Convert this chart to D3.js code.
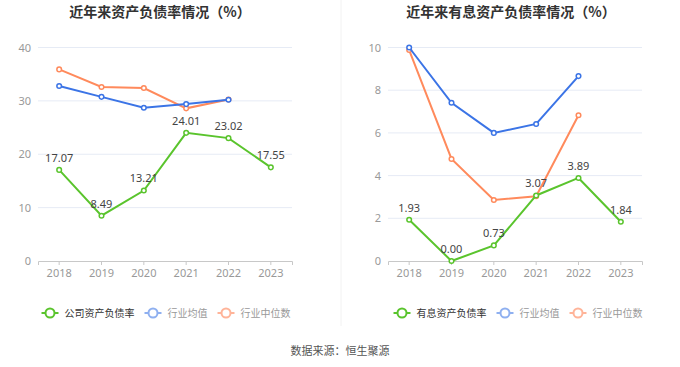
<!DOCTYPE html>
<html><head><meta charset="utf-8">
<script src="https://cdn.jsdelivr.net/npm/d3@7/dist/d3.min.js"></script>
<style>body{margin:0;background:#fff;}svg{display:block;font-family:"Noto Sans CJK SC","Noto Sans",sans-serif;}</style>
</head><body><svg id="c" width="680" height="367"></svg>
<script>
const years = ["2018","2019","2020","2021","2022","2023"];
// Left chart: 资产负债率
const leftTitle = "近年来资产负债率情况（%）";
const leftCompany = [17.07, 8.49, 13.21, 24.01, 23.02, 17.55];
const leftAvg = [32.8, 30.75, 28.7, 29.4, 30.2, null];
const leftMedian = [35.9, 32.6, 32.4, 28.6, 30.25, null];
const leftTicks = [0, 10, 20, 30, 40];
const leftNames = ["公司资产负债率", "行业均值", "行业中位数"];
// Right chart: 有息资产负债率
const rightTitle = "近年来有息资产负债率情况（%）";
const rightCompany = [1.93, 0.00, 0.73, 3.07, 3.89, 1.84];
const rightAvg = [10.0, 7.41, 6.0, 6.42, 8.66, null];
const rightMedian = [9.88, 4.78, 2.86, 3.03, 6.83, null];
const rightTicks = [0, 2, 4, 6, 8, 10];
const rightNames = ["有息资产负债率", "行业均值", "行业中位数"];
const source = "数据来源：恒生聚源";

const colors = ["#5ac42d", "#3b74e6", "#ff8a5c"];
const legendColors = ["#5ac42d", "#8fb0f0", "#ffb499"];
const svg = d3.select("#c");

svg.append("line").attr("x1",341).attr("x2",341).attr("y1",0).attr("y2",326)
  .attr("stroke","#f2f2f2").attr("stroke-width",1);

function chart(opt){
  const g = svg.append("g");
  const x = d3.scaleBand().domain(years).range([opt.x0, opt.x1]);
  const y = d3.scaleLinear().domain([0, d3.max(opt.ticks)]).range([261, 47.5]);
  g.append("text").attr("x", opt.tx).attr("y", 17).attr("text-anchor","middle")
    .attr("font-size",14).attr("font-weight","bold").attr("fill","#333").text(opt.title);
  // grid
  g.selectAll(".grid").data(opt.ticks.filter(t=>t>0)).join("line")
    .attr("x1",opt.x0).attr("x2",opt.x1).attr("y1",d=>y(d)).attr("y2",d=>y(d))
    .attr("stroke","#e6ebf5").attr("stroke-width",1);
  const ya = d3.axisLeft(y).tickValues(opt.ticks).tickSize(0).tickPadding(7);
  const yg = g.append("g").attr("transform",`translate(${opt.x0},0)`).call(ya);
  yg.select(".domain").remove();
  yg.selectAll("text").attr("fill","#999").attr("font-size",11).attr("font-family","Noto Sans, sans-serif");
  const xa = d3.axisBottom(x).tickSize(4).tickPadding(4);
  const xg = g.append("g").attr("transform",`translate(0,261)`).call(xa);
  xg.select(".domain").attr("stroke","#c8c8c8");
  xg.selectAll(".tick line").attr("stroke","#c8c8c8");
  xg.selectAll("text").attr("fill","#999").attr("font-size",11).attr("font-family","Noto Sans, sans-serif");
  const series = [opt.company, opt.avg, opt.median];
  const cx = d => x(d) + x.bandwidth()/2;
  [2,1,0].forEach(i => {
    const pts = years.map((yr,j)=>({yr, v: series[i][j]})).filter(p=>p.v!==null);
    const line = d3.line().x(p=>cx(p.yr)).y(p=>y(p.v));
    g.append("path").datum(pts).attr("d",line).attr("fill","none")
      .attr("stroke",colors[i]).attr("stroke-width",2);
    g.selectAll(null).data(pts).join("circle")
      .attr("cx",p=>cx(p.yr)).attr("cy",p=>y(p.v)).attr("r",2.3)
      .attr("fill","#fff").attr("stroke",colors[i]).attr("stroke-width",1.5);
  });
  const pts = years.map((yr,j)=>({yr, v: opt.company[j]}));
  g.selectAll(null).data(pts).join("text")
    .attr("x",p=>cx(p.yr)).attr("y",p=>y(p.v)-8).attr("text-anchor","middle")
    .attr("font-size",11).attr("fill","#444").attr("font-family","Noto Sans, sans-serif")
    .text(p=>p.v.toFixed(2));
  // legend (centered)
  const lg = g.append("g");
  let lx = 0;
  opt.names.forEach((n,i)=>{
    lg.append("line").attr("x1",lx).attr("x2",lx+17).attr("y1",313).attr("y2",313)
      .attr("stroke",legendColors[i]).attr("stroke-width",2);
    lg.append("circle").attr("cx",lx+8.5).attr("cy",313).attr("r",4.5)
      .attr("fill","#fff").attr("stroke",legendColors[i]).attr("stroke-width",2);
    const t = lg.append("text").attr("x",lx+23).attr("y",316.5).attr("font-size",10)
      .attr("fill", i===0 ? "#333" : "#999").text(n);
    lx += 23 + t.node().getComputedTextLength() + 10;
  });
  const w = lx - 10;
  lg.attr("transform",`translate(${opt.lc - w/2},0)`);
}
chart({x0:38, x1:292, tx:160, title:leftTitle, company:leftCompany, avg:leftAvg, median:leftMedian, ticks:leftTicks, names:leftNames, lc:166});
chart({x0:388, x1:642, tx:511, title:rightTitle, company:rightCompany, avg:rightAvg, median:rightMedian, ticks:rightTicks, names:rightNames, lc:518});
svg.append("text").attr("x",340).attr("y",355).attr("text-anchor","middle")
  .attr("font-size",11).attr("fill","#555").text(source);
</script></body></html>
